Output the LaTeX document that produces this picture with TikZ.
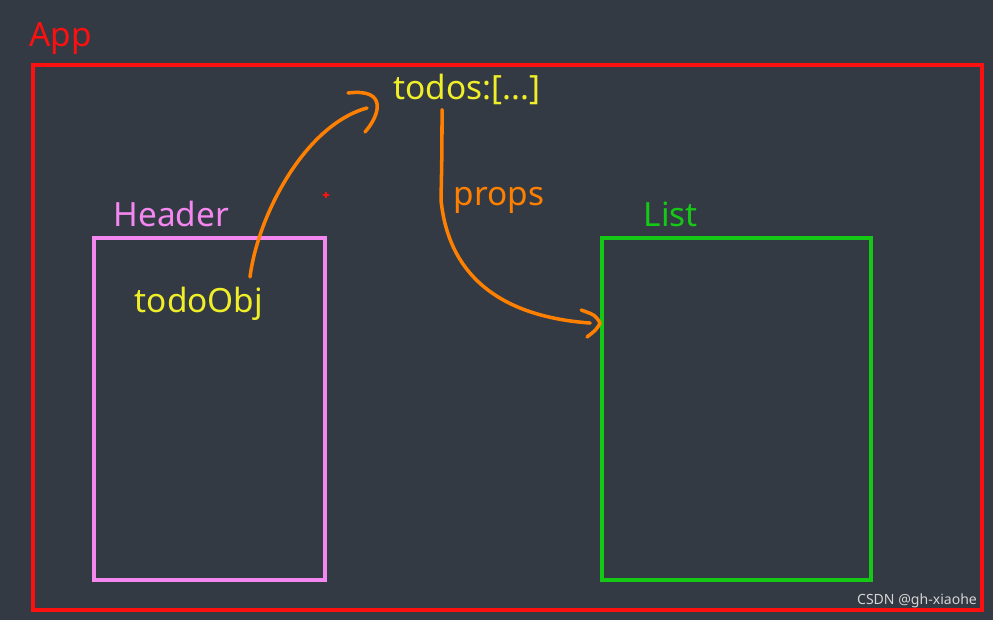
\documentclass[tikz,border=0pt]{standalone}
\usepackage{fontspec}
\setmainfont{Noto Sans}
\usetikzlibrary{positioning}

\definecolor{board}{RGB}{51,58,67}
\definecolor{appred}{RGB}{252,16,16}
\definecolor{hdrpink}{RGB}{245,135,240}
\definecolor{listgreen}{RGB}{22,200,22}
\definecolor{dataylw}{RGB}{240,238,40}
\definecolor{flow}{RGB}{255,128,0}
\definecolor{mark}{RGB}{212,212,212}

\begin{document}
\begin{tikzpicture}[x=0.02cm,y=-0.02cm,
  big/.style={font=\fontsize{19}{23}\selectfont,inner sep=0pt},
  comp/.style={draw,line width=2.1pt,minimum height=6.84cm},
  pen/.style={draw=flow,line width=2pt,line cap=round,line join=round}]
  \useasboundingbox (0,0) rectangle (993,620);
  \fill[board] (0,0) rectangle (993,620);

  \node[comp,draw=appred,minimum width=18.98cm,minimum height=10.9cm] (app) at (507.5,337.5) {};
  \node[comp,draw=hdrpink,line width=1.9pt,minimum width=4.62cm] (hdr) at (209.5,409) {};
  \node[comp,draw=listgreen,minimum width=5.38cm] (list) at (736.5,409) {};

  \node[big,text=appred,above right=0.34cm and -0.04cm of app.north west,anchor=base west] (appname) {App};
  \node[big,text=hdrpink,above right=0.2cm and 0.42cm of hdr.north west,anchor=base west] (hdrname) {Header};
  \node[big,text=listgreen,above right=0.2cm and 0.86cm of list.north west,anchor=base west] (listname) {List};

  \node[big,text=dataylw] (todos) at (467,89) {todos:[...]};
  \node[big,text=dataylw] (obj) at (199,304) {todoObj};
  \node[big,text=flow] (props) at (499,200) {props};

  \coordinate (objtop) at ([xshift=1.02cm,yshift=0.2cm]obj.north);
  \coordinate (todosin) at (367,108);
  \coordinate (todosout) at ([xshift=-0.5cm,yshift=-0.1cm]todos.south);
  \coordinate (listin) at ([yshift=1.72cm]list.west);

  % todoObj up to todos
  \path[pen] (objtop) .. controls (258,215) and (305,125) .. (todosin);
  \path[pen] (348,93) .. controls (388,88) and (380,115) .. (365,132);
  % todos down to List
  \path[pen] (todosout) .. controls (442,150) .. (441,200)
    .. controls (450,290) and (520,318) .. ([xshift=-0.2cm]listin);
  \path[pen] (listin) ++(-19,-13) .. controls (595,315) .. (listin)
    .. controls (596,330) .. (587,337);

  \draw[appred,line width=0.8pt] (323,195) -- (329,195) (326,192) -- (326,198);

  \node[text=mark,font=\fontsize{8}{10}\selectfont,inner sep=0pt] (wm) at (917,601) {CSDN @gh-xiaohe};
\end{tikzpicture}
\end{document}
